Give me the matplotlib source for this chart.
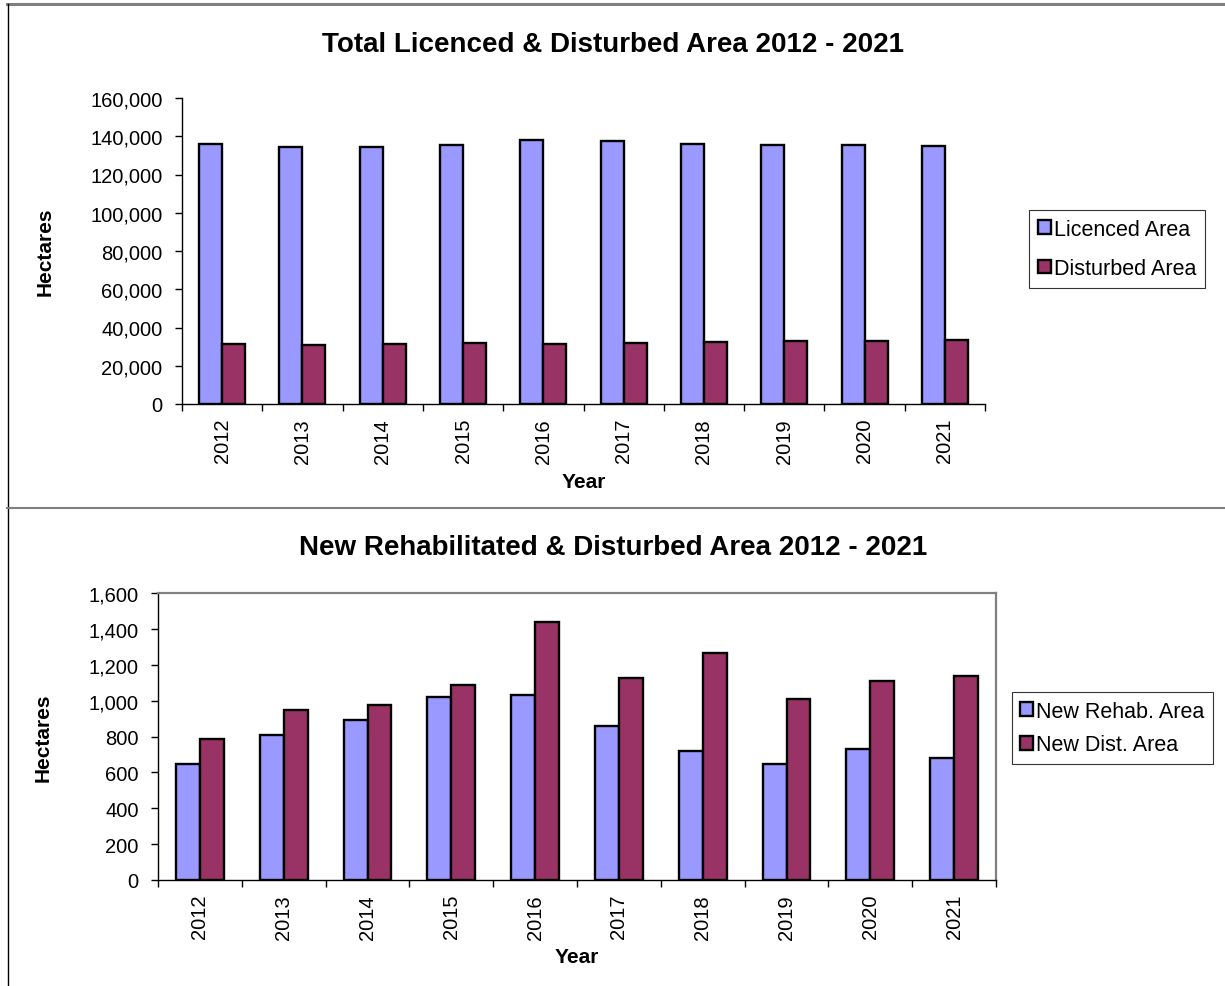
import matplotlib.pyplot as plt
from matplotlib.lines import Line2D
from matplotlib.ticker import FuncFormatter, MultipleLocator
import numpy as np

plt.rcParams['font.family'] = ['Liberation Sans', 'DejaVu Sans']

# data
years = ['2012', '2013', '2014', '2015', '2016', '2017', '2018', '2019', '2020', '2021']
licenced = [136000, 134400, 134600, 135300, 138200, 137500, 135800, 135300, 135300, 134800]
disturbed = [31400, 30900, 31400, 31800, 31400, 32100, 32500, 32700, 32800, 33700]
new_rehab = [644, 811, 894, 1022, 1033, 856, 721, 644, 732, 678]
new_dist = [787, 946, 978, 1085, 1439, 1128, 1263, 1007, 1107, 1135]

c1 = '#9999FF'
c2 = '#993366'

fig = plt.figure(figsize=(12.25, 9.87), dpi=100)
W, H = 1225.0, 987.0

def fx(px):
    return px / W

def fy(py):
    return 1 - py / H

# panel borders
fig.add_artist(Line2D([fx(7), 1], [fy(4.5), fy(4.5)], color='#808080', lw=2.2))
fig.add_artist(Line2D([fx(7.5), fx(7.5)], [fy(4.5), 0], color='black', lw=1.0))
fig.add_artist(Line2D([fx(7), 1], [fy(508.5), fy(508.5)], color='#808080', lw=1.5))

fmt = FuncFormatter(lambda v, p: '{:,.0f}'.format(v))
x = np.arange(len(years))
bw = 0.286


def draw(ax, a, b, la, lb, ymax, step, title, title_y, leg_box, ylab_x, xlab_y, spacing):
    ax.bar(x - bw / 2, a, bw, color=c1, edgecolor='black', linewidth=1.7, label=la)
    ax.bar(x + bw / 2, b, bw, color=c2, edgecolor='black', linewidth=1.7, label=lb)
    ax.set_xlim(-0.5, len(years) - 0.5)
    ax.set_ylim(0, ymax)
    ax.yaxis.set_major_locator(MultipleLocator(step))
    ax.yaxis.set_major_formatter(fmt)
    ax.set_xticks(x)
    ax.set_xticklabels(years, rotation=90, fontsize=14.5)
    ax.set_xticks(np.arange(len(years) + 1) - 0.5, minor=True)
    ax.tick_params(axis='x', which='major', length=0, pad=10)
    ax.tick_params(axis='x', which='minor', length=5, direction='out', width=1)
    ax.tick_params(axis='y', length=5, direction='out', width=1, labelsize=14.5, pad=9)
    for s in ['left', 'bottom']:
        ax.spines[s].set_color('black')
        ax.spines[s].set_linewidth(1.0)
    fig.text(fx(613), fy(title_y), title, ha='center', va='center',
             fontsize=20, fontweight='bold')
    fig.text(fx(ylab_x), ax.get_position().y0 + ax.get_position().height / 2, 'Hectares',
             rotation=90, ha='center', va='center', fontsize=15, fontweight='bold')
    pos = ax.get_position()
    fig.text(pos.x0 + pos.width / 2, fy(xlab_y), 'Year', ha='center', va='center',
             fontsize=15, fontweight='bold')
    l, t, r, btm = leg_box
    leg = ax.legend(loc='center', bbox_to_anchor=(fx(l), fy(btm), fx(r) - fx(l), fy(t) - fy(btm)),
                    bbox_transform=fig.transFigure, frameon=True, fancybox=False,
                    fontsize=15.5, handlelength=0.6, handleheight=0.6, handletextpad=0.15,
                    borderpad=0.4, labelspacing=spacing, borderaxespad=0)
    leg.get_frame().set_edgecolor('black')
    leg.get_frame().set_linewidth(0.8)
    for h in leg.legend_handles:
        h.set_linewidth(1.7)


ax1 = fig.add_axes([fx(182), fy(405), fx(985) - fx(182), fy(99) - fy(405)])
ax1.spines['top'].set_visible(False)
ax1.spines['right'].set_visible(False)
draw(ax1, licenced, disturbed, 'Licenced Area', 'Disturbed Area', 160000, 20000,
     'Total Licenced & Disturbed Area 2012 - 2021', 45, (1013, 211, 1221, 289), 45, 483, 0.85)

ax2 = fig.add_axes([fx(158), fy(881), fx(996) - fx(158), fy(594) - fy(881)])
for s in ['top', 'right']:
    ax2.spines[s].set_color('#808080')
    ax2.spines[s].set_linewidth(1.6)
draw(ax2, new_rehab, new_dist, 'New Rehab. Area', 'New Dist. Area', 1600, 200,
     'New Rehabilitated & Disturbed Area 2012 - 2021', 548, (1003, 693, 1222, 765), 43, 958, 0.6)

fig.savefig('out.png', dpi=100)
